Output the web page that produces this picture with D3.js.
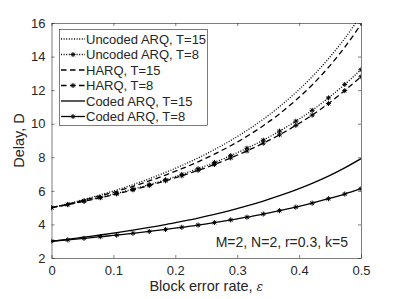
<!DOCTYPE html>
<html>
<head>
<meta charset="utf-8">
<script src="https://cdn.jsdelivr.net/npm/d3@7"></script>
<style>
  body { margin: 0; background: #fff; }
  text { font-family: "Liberation Sans", Arial, sans-serif; fill: #262626; }
</style>
</head>
<body>
<div id="chart"></div>
<script>
var width = 399
var height = 299
var margin = { top: 23, right: 38, bottom: 41, left: 51.5 }

// block error rate (20 points from 0 to 0.5)
var eps = [0, 0.0263, 0.0526, 0.0789, 0.1053, 0.1316, 0.1579, 0.1842, 0.2105, 0.2368,
           0.2632, 0.2895, 0.3158, 0.3421, 0.3684, 0.3947, 0.4211, 0.4474, 0.4737, 0.5]

var uncodedT15 = [5.00, 5.23, 5.49, 5.76, 6.05, 6.37, 6.72, 7.10, 7.51, 7.96,
                  8.46, 9.00, 9.60, 10.27, 11.02, 11.86, 12.80, 13.87, 15.08, 16.47]
var uncodedT8 = [5.00, 5.19, 5.40, 5.61, 5.85, 6.10, 6.37, 6.66, 6.98, 7.32,
                 7.69, 8.10, 8.54, 9.02, 9.56, 10.15, 10.80, 11.54, 12.34, 13.22]
var harqT15 = [5.00, 5.21, 5.45, 5.70, 5.97, 6.27, 6.59, 6.94, 7.32, 7.73,
               8.19, 8.69, 9.25, 9.88, 10.59, 11.40, 12.31, 13.36, 14.55, 15.92]
var harqT8 = [5.00, 5.18, 5.38, 5.59, 5.82, 6.06, 6.32, 6.60, 6.90, 7.22,
              7.57, 7.96, 8.38, 8.84, 9.34, 9.90, 10.51, 11.20, 11.97, 12.80]
var codedT15 = [3.00, 3.11, 3.24, 3.37, 3.51, 3.66, 3.82, 3.99, 4.18, 4.38,
                4.60, 4.84, 5.10, 5.39, 5.71, 6.06, 6.45, 6.88, 7.37, 7.92]
var codedT8 = [3.00, 3.08, 3.17, 3.27, 3.36, 3.47, 3.58, 3.70, 3.83, 3.96,
               4.11, 4.27, 4.43, 4.62, 4.82, 5.03, 5.27, 5.53, 5.81, 6.13]

var xTicks = [0, 0.1, 0.2, 0.3, 0.4, 0.5]
var yTicks = [2, 4, 6, 8, 10, 12, 14, 16]

var series = [
  { name: 'Uncoded ARQ, T=15', values: uncodedT15, dash: '1,1.6', marker: false },
  { name: 'Uncoded ARQ, T=8', values: uncodedT8, dash: '1,1.6', marker: true },
  { name: 'HARQ, T=15', values: harqT15, dash: '5.5,3.5', marker: false },
  { name: 'HARQ, T=8', values: harqT8, dash: '5.5,3.5', marker: true },
  { name: 'Coded ARQ, T=15', values: codedT15, dash: null, marker: false },
  { name: 'Coded ARQ, T=8', values: codedT8, dash: null, marker: true }
]
var annotation = 'M=2, N=2, r=0.3, k=5'

var plotW = width - margin.left - margin.right
var plotH = height - margin.top - margin.bottom

var svg = d3.select('#chart').append('svg')
    .attr('width', width)
    .attr('height', height)

var x = d3.scaleLinear().domain([0, 0.5]).range([margin.left, margin.left + plotW])
var y = d3.scaleLinear().domain([2, 16]).range([margin.top + plotH, margin.top])

var axisColor = '#262626'

svg.append('clipPath').attr('id', 'clip')
    .append('rect')
    .attr('x', margin.left).attr('y', margin.top)
    .attr('width', plotW).attr('height', plotH)

// axes with inward ticks
function styleAxis(g) {
  g.selectAll('path, line').attr('stroke', axisColor).attr('stroke-width', 0.6)
  g.selectAll('text').attr('fill', axisColor).style('font-size', '13px')
    .style('font-family', '"Liberation Sans", Arial, sans-serif')
}
svg.append('g')
    .attr('transform', 'translate(0,' + (margin.top + plotH) + ')')
    .call(d3.axisBottom(x).tickValues(xTicks).tickFormat(d3.format('')).tickSizeInner(-3).tickSizeOuter(0).tickPadding(8))
    .call(styleAxis)
svg.append('g')
    .attr('transform', 'translate(0,' + margin.top + ')')
    .call(d3.axisTop(x).tickValues(xTicks).tickFormat('').tickSizeInner(-3).tickSizeOuter(0))
    .call(styleAxis)
svg.append('g')
    .attr('transform', 'translate(' + margin.left + ',0)')
    .call(d3.axisLeft(y).tickValues(yTicks).tickSizeInner(-3).tickSizeOuter(0).tickPadding(6))
    .call(styleAxis)
svg.append('g')
    .attr('transform', 'translate(' + (margin.left + plotW) + ',0)')
    .call(d3.axisRight(y).tickValues(yTicks).tickFormat('').tickSizeInner(-3).tickSizeOuter(0))
    .call(styleAxis)

// axis titles
svg.append('text')
    .attr('x', margin.left + plotW / 2)
    .attr('y', 291)
    .attr('text-anchor', 'middle')
    .style('font-size', '14.5px')
    .html('Block error rate, <tspan font-family="DejaVu Serif" font-style="italic" font-size="12px">\u03b5</tspan>')
svg.append('text')
    .attr('transform', 'translate(24,' + (margin.top + plotH / 2) + ') rotate(-90)')
    .attr('text-anchor', 'middle')
    .style('font-size', '14.5px')
    .text('Delay, D')

var line = d3.line()
    .x((d, i) => x(eps[i]))
    .y(d => y(d))
    .curve(d3.curveMonotoneX)

function starPath(cx, cy, r) {
  var a = r * 0.7
  return 'M' + (cx - r) + ',' + cy + 'L' + (cx + r) + ',' + cy +
    'M' + cx + ',' + (cy - r) + 'L' + cx + ',' + (cy + r) +
    'M' + (cx - a) + ',' + (cy - a) + 'L' + (cx + a) + ',' + (cy + a) +
    'M' + (cx - a) + ',' + (cy + a) + 'L' + (cx + a) + ',' + (cy - a)
}

var plot = svg.append('g').attr('clip-path', 'url(#clip)')
series.forEach(s => {
  plot.append('path')
      .attr('d', line(s.values))
      .attr('fill', 'none')
      .attr('stroke', '#000')
      .attr('stroke-width', 1.3)
      .attr('stroke-dasharray', s.dash)
  if (s.marker) {
    plot.selectAll(null).data(s.values).enter()
      .append('path')
      .attr('d', (d, i) => starPath(x(eps[i]), y(d), 2.5))
      .attr('stroke', '#000')
      .attr('stroke-width', 1)
  }
})

// legend
var lg = svg.append('g')
lg.append('rect')
    .attr('x', 59.5).attr('y', 29.5)
    .attr('width', 148).attr('height', 96)
    .attr('fill', '#fff')
    .attr('stroke', axisColor)
    .attr('stroke-width', 0.6)
series.forEach((s, i) => {
  var cy = 39 + i * 15.5
  lg.append('line')
      .attr('x1', 61).attr('x2', 85)
      .attr('y1', cy).attr('y2', cy)
      .attr('stroke', '#000')
      .attr('stroke-width', 1.3)
      .attr('stroke-dasharray', s.dash)
  if (s.marker) {
    lg.append('path').attr('d', starPath(73, cy, 2.5))
      .attr('stroke', '#000').attr('stroke-width', 1)
  }
  lg.append('text')
      .attr('x', 86).attr('y', cy + 4.6)
      .style('font-size', '13px')
      .text(s.name)
})

svg.append('text')
    .attr('x', 348).attr('y', 247)
    .attr('text-anchor', 'end')
    .style('font-size', '14px')
    .text(annotation)
</script>
</body>
</html>
